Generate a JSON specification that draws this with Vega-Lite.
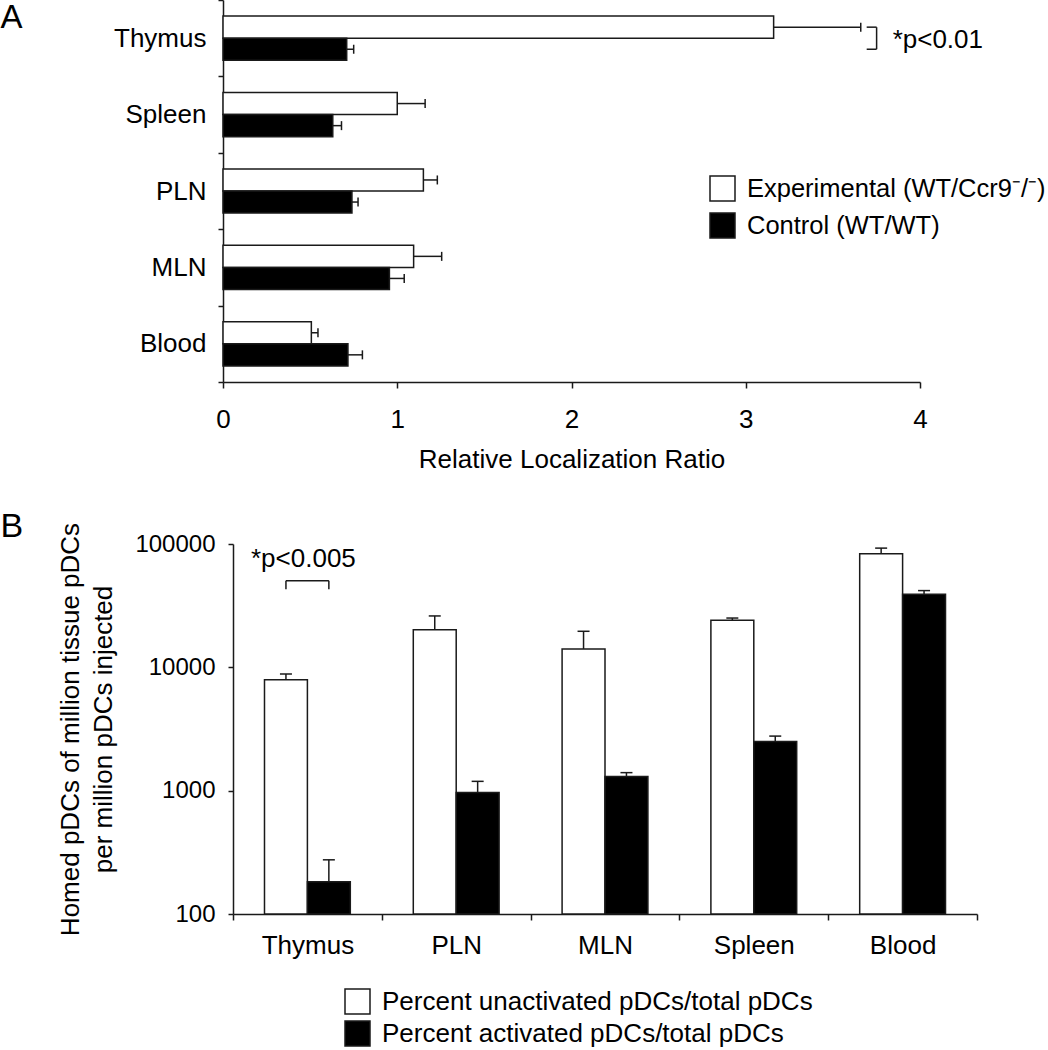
{
  "$schema": "https://vega.github.io/schema/vega-lite/v6.json",
  "background": "white",
  "padding": {"top": -13, "left": 0, "right": 0, "bottom": 0},
  "config": {
    "font": "Liberation Sans",
    "view": {"stroke": null},
    "axis": {"domainColor": "#1a1a1a", "domainWidth": 1.5, "tickColor": "#1a1a1a", "tickWidth": 1.5, "labelColor": "#000", "titleColor": "#000", "labelFont": "Liberation Sans", "titleFont": "Liberation Sans", "grid": false, "titleFontWeight": "normal"},
    "legend": {"labelFont": "Liberation Sans", "labelColor": "#000", "padding": 0}
  },
  "spacing": 37,
  "resolve": {"scale": {"fill": "independent"}, "legend": {"fill": "independent"}},
  "vconcat": [
    {
      "width": 687,
      "height": 382,
      "data": {"values": [
        {"organ": "Thymus", "group": "Experimental (WT/Ccr9⁻/⁻)", "value": 3.16, "err": 3.66},
        {"organ": "Thymus", "group": "Control (WT/WT)", "value": 0.71, "err": 0.75},
        {"organ": "Spleen", "group": "Experimental (WT/Ccr9⁻/⁻)", "value": 1.0, "err": 1.16},
        {"organ": "Spleen", "group": "Control (WT/WT)", "value": 0.63, "err": 0.68},
        {"organ": "PLN", "group": "Experimental (WT/Ccr9⁻/⁻)", "value": 1.15, "err": 1.23},
        {"organ": "PLN", "group": "Control (WT/WT)", "value": 0.74, "err": 0.775},
        {"organ": "MLN", "group": "Experimental (WT/Ccr9⁻/⁻)", "value": 1.094, "err": 1.255},
        {"organ": "MLN", "group": "Control (WT/WT)", "value": 0.955, "err": 1.04},
        {"organ": "Blood", "group": "Experimental (WT/Ccr9⁻/⁻)", "value": 0.507, "err": 0.545},
        {"organ": "Blood", "group": "Control (WT/WT)", "value": 0.717, "err": 0.8}
      ]},
      "layer": [
        {
          "mark": {"type": "bar", "stroke": "#1a1a1a", "strokeWidth": 1.5},
          "encoding": {
            "y": {"field": "organ", "type": "nominal", "sort": ["Thymus", "Spleen", "PLN", "MLN", "Blood"], "scale": {"paddingInner": 0, "paddingOuter": 0},
              "axis": {"title": null, "labelFontSize": 26, "tickSize": 5, "labelPadding": 12, "tickBand": "extent", "offset": 10}},
            "yOffset": {"field": "group", "type": "nominal", "sort": ["Experimental (WT/Ccr9⁻/⁻)", "Control (WT/WT)"], "scale": {"paddingInner": 0, "paddingOuter": 0.73}},
            "x": {"field": "value", "type": "quantitative", "scale": {"domain": [0, 4], "nice": false, "range": [-10, 687]},
              "axis": {"values": [0, 1, 2, 3, 4], "format": "d", "title": "Relative Localization Ratio", "titleFontSize": 26, "labelFontSize": 26, "tickSize": 6, "labelPadding": 18, "titlePadding": 14, "labelFlush": false}},
            "fill": {"field": "group", "type": "nominal", "sort": ["Experimental (WT/Ccr9⁻/⁻)", "Control (WT/WT)"], "scale": {"domain": ["Experimental (WT/Ccr9⁻/⁻)", "Control (WT/WT)"], "range": ["#ffffff", "#000000"]},
              "legend": {"orient": "none", "legendX": 476, "legendY": 175, "title": null, "symbolType": "square", "symbolSize": 625, "symbolStrokeColor": "#1a1a1a", "symbolStrokeWidth": 1.5, "labelFontSize": 25.5, "labelOffset": 11, "rowPadding": 6, "labelLimit": 0}}
          }
        },
        {
          "mark": {"type": "rule", "strokeWidth": 1.5, "color": "#1a1a1a"},
          "encoding": {
            "y": {"field": "organ", "type": "nominal", "sort": ["Thymus", "Spleen", "PLN", "MLN", "Blood"]},
            "yOffset": {"field": "group", "type": "nominal", "sort": ["Experimental (WT/Ccr9⁻/⁻)", "Control (WT/WT)"]},
            "x": {"field": "value", "type": "quantitative"},
            "x2": {"field": "err"}
          }
        },
        {
          "mark": {"type": "tick", "thickness": 1.5, "size": 9, "color": "#1a1a1a", "orient": "vertical", "opacity": 1},
          "encoding": {
            "y": {"field": "organ", "type": "nominal", "sort": ["Thymus", "Spleen", "PLN", "MLN", "Blood"]},
            "yOffset": {"field": "group", "type": "nominal", "sort": ["Experimental (WT/Ccr9⁻/⁻)", "Control (WT/WT)"]},
            "x": {"field": "err", "type": "quantitative"}
          }
        },
        {
          "data": {"values": [{"organ": "Thymus", "x": 3.843, "label": "*p<0.01"}]},
          "mark": {"type": "text", "fontSize": 26, "align": "left", "baseline": "middle", "color": "#000", "dy": 2},
          "encoding": {
            "y": {"field": "organ", "type": "nominal", "sort": ["Thymus", "Spleen", "PLN", "MLN", "Blood"]},
            "x": {"field": "x", "type": "quantitative"},
            "text": {"field": "label"}
          }
        },
        {
          "data": {"values": [{"organ": "Thymus", "x": -1.277, "label": "A"}]},
          "mark": {"type": "text", "fontSize": 33, "align": "left", "baseline": "alphabetic", "color": "#000"},
          "encoding": {
            "y": {"field": "organ", "type": "nominal", "sort": ["Thymus", "Spleen", "PLN", "MLN", "Blood"], "bandPosition": 0.36},
            "x": {"field": "x", "type": "quantitative"},
            "text": {"field": "label"}
          }
        },
        {
          "data": {"values": [{"organ": "Thymus", "x": 3.751}]},
          "mark": {"type": "tick", "thickness": 1.5, "size": 22, "color": "#1a1a1a", "orient": "vertical", "opacity": 1},
          "encoding": {
            "y": {"field": "organ", "type": "nominal", "sort": ["Thymus", "Spleen", "PLN", "MLN", "Blood"]},
            "x": {"field": "x", "type": "quantitative"}
          }
        },
        {
          "data": {"values": [
            {"organ": "Thymus", "group": "Experimental (WT/Ccr9⁻/⁻)", "x1": 3.694, "x2": 3.751},
            {"organ": "Thymus", "group": "Control (WT/WT)", "x1": 3.694, "x2": 3.751}
          ]},
          "mark": {"type": "rule", "strokeWidth": 1.5, "color": "#1a1a1a"},
          "encoding": {
            "y": {"field": "organ", "type": "nominal", "sort": ["Thymus", "Spleen", "PLN", "MLN", "Blood"]},
            "yOffset": {"field": "group", "type": "nominal", "sort": ["Experimental (WT/Ccr9⁻/⁻)", "Control (WT/WT)"]},
            "x": {"field": "x1", "type": "quantitative"},
            "x2": {"field": "x2"}
          }
        }
      ]
    },
    {
      "width": 744,
      "height": 370,
      "data": {"values": [
        {"organ": "Thymus", "group": "Percent unactivated pDCs/total pDCs", "value": 7940, "err": 8830},
        {"organ": "Thymus", "group": "Percent activated pDCs/total pDCs", "value": 183, "err": 275},
        {"organ": "PLN", "group": "Percent unactivated pDCs/total pDCs", "value": 20200, "err": 26100},
        {"organ": "PLN", "group": "Percent activated pDCs/total pDCs", "value": 968, "err": 1190},
        {"organ": "MLN", "group": "Percent unactivated pDCs/total pDCs", "value": 14100, "err": 19600},
        {"organ": "MLN", "group": "Percent activated pDCs/total pDCs", "value": 1300, "err": 1400},
        {"organ": "Spleen", "group": "Percent unactivated pDCs/total pDCs", "value": 24100, "err": 25100},
        {"organ": "Spleen", "group": "Percent activated pDCs/total pDCs", "value": 2500, "err": 2770},
        {"organ": "Blood", "group": "Percent unactivated pDCs/total pDCs", "value": 83200, "err": 92600},
        {"organ": "Blood", "group": "Percent activated pDCs/total pDCs", "value": 39100, "err": 41900}
      ]},
      "layer": [
        {
          "mark": {"type": "bar", "stroke": "#1a1a1a", "strokeWidth": 1.5},
          "encoding": {
            "x": {"field": "organ", "type": "nominal", "sort": ["Thymus", "PLN", "MLN", "Spleen", "Blood"], "scale": {"paddingInner": 0, "paddingOuter": 0},
              "axis": {"title": null, "labelFontSize": 26, "labelAngle": 0, "tickSize": 6, "labelPadding": 12, "tickBand": "extent"}},
            "xOffset": {"field": "group", "type": "nominal", "sort": ["Percent unactivated pDCs/total pDCs", "Percent activated pDCs/total pDCs"], "scale": {"paddingInner": 0, "paddingOuter": 0.734}},
            "y": {"field": "value", "type": "quantitative", "scale": {"type": "log", "domain": [100, 100000], "nice": false},
              "axis": {"values": [100, 1000, 10000, 100000], "format": "d", "title": ["Homed pDCs of million tissue pDCs", "per million pDCs injected"], "titleFontSize": 26, "titleLineHeight": 33, "labelFontSize": 24, "tickSize": 5, "labelPadding": 13, "titlePadding": 18}},
            "y2": {"datum": 100},
            "fill": {"field": "group", "type": "nominal", "sort": ["Percent unactivated pDCs/total pDCs", "Percent activated pDCs/total pDCs"], "scale": {"domain": ["Percent unactivated pDCs/total pDCs", "Percent activated pDCs/total pDCs"], "range": ["#ffffff", "#000000"]},
              "legend": {"orient": "none", "legendX": 111, "legendY": 444, "title": null, "symbolType": "square", "symbolSize": 625, "symbolStrokeColor": "#1a1a1a", "symbolStrokeWidth": 1.5, "labelFontSize": 26, "labelOffset": 11, "rowPadding": 1, "labelLimit": 0}}
          }
        },
        {
          "mark": {"type": "rule", "strokeWidth": 1.5, "color": "#1a1a1a"},
          "encoding": {
            "x": {"field": "organ", "type": "nominal", "sort": ["Thymus", "PLN", "MLN", "Spleen", "Blood"]},
            "xOffset": {"field": "group", "type": "nominal", "sort": ["Percent unactivated pDCs/total pDCs", "Percent activated pDCs/total pDCs"]},
            "y": {"field": "value", "type": "quantitative"},
            "y2": {"field": "err"}
          }
        },
        {
          "mark": {"type": "tick", "thickness": 1.5, "size": 12, "color": "#1a1a1a", "orient": "horizontal", "opacity": 1},
          "encoding": {
            "x": {"field": "organ", "type": "nominal", "sort": ["Thymus", "PLN", "MLN", "Spleen", "Blood"]},
            "xOffset": {"field": "group", "type": "nominal", "sort": ["Percent unactivated pDCs/total pDCs", "Percent activated pDCs/total pDCs"]},
            "y": {"field": "err", "type": "quantitative"}
          }
        },
        {
          "data": {"values": [{"organ": "Thymus", "y": 65000, "label": "*p<0.005"}]},
          "mark": {"type": "text", "fontSize": 26, "align": "center", "baseline": "alphabetic", "color": "#000", "dx": -4},
          "encoding": {
            "x": {"field": "organ", "type": "nominal", "sort": ["Thymus", "PLN", "MLN", "Spleen", "Blood"]},
            "y": {"field": "y", "type": "quantitative"},
            "text": {"field": "label"}
          }
        },
        {
          "data": {"values": [{"organ": "Thymus", "y": 114000, "label": "B"}]},
          "mark": {"type": "text", "fontSize": 34, "align": "left", "baseline": "alphabetic", "color": "#000"},
          "encoding": {
            "x": {"field": "organ", "type": "nominal", "sort": ["Thymus", "PLN", "MLN", "Spleen", "Blood"], "bandPosition": -1.5625},
            "y": {"field": "y", "type": "quantitative"},
            "text": {"field": "label"}
          }
        },
        {
          "data": {"values": [{"organ": "Thymus", "y": 50400}]},
          "mark": {"type": "tick", "thickness": 1.5, "size": 43, "color": "#1a1a1a", "orient": "horizontal", "opacity": 1},
          "encoding": {
            "x": {"field": "organ", "type": "nominal", "sort": ["Thymus", "PLN", "MLN", "Spleen", "Blood"]},
            "y": {"field": "y", "type": "quantitative"}
          }
        },
        {
          "data": {"values": [
            {"organ": "Thymus", "group": "Percent unactivated pDCs/total pDCs", "y1": 50400, "y2": 43000},
            {"organ": "Thymus", "group": "Percent activated pDCs/total pDCs", "y1": 50400, "y2": 43000}
          ]},
          "mark": {"type": "rule", "strokeWidth": 1.5, "color": "#1a1a1a"},
          "encoding": {
            "x": {"field": "organ", "type": "nominal", "sort": ["Thymus", "PLN", "MLN", "Spleen", "Blood"]},
            "xOffset": {"field": "group", "type": "nominal", "sort": ["Percent unactivated pDCs/total pDCs", "Percent activated pDCs/total pDCs"]},
            "y": {"field": "y1", "type": "quantitative"},
            "y2": {"field": "y2"}
          }
        }
      ]
    }
  ]
}
